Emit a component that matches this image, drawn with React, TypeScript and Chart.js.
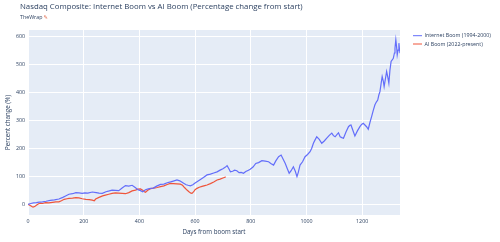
import React, { useEffect, useRef } from "react";
import { Chart, registerables } from "chart.js";

Chart.register(...registerables);

const TITLE = "Nasdaq Composite: Internet Boom vs AI Boom (Percentage change from start)";
const SUBTITLE = "TheWrap";
const X_TITLE = "Days from boom start";
const Y_TITLE = "Percent change (%)";
const SERIES_NAMES = ["Internet Boom (1994-2000)", "AI Boom (2022-present)"];
const SERIES_COLORS = ["#636efa", "#EF553B"];

const internetDays = [
  0, 10, 20, 30, 40, 52, 65, 80, 95, 111, 125, 135, 147, 160, 172, 183, 195, 204, 215, 231,
  245, 255, 267, 280, 292, 302, 314, 326, 338, 350, 362, 374, 385, 395, 404, 412, 422, 432, 440, 450,
  462, 476, 488, 500, 512, 522, 535, 545, 552, 559, 568, 575, 583, 592, 600, 607, 618, 630, 643, 655,
  667, 679, 690, 700, 708, 715, 721, 727, 735, 742, 750, 758, 766, 774, 782, 790, 798, 808, 818, 828,
  840, 852, 864, 872, 882, 890, 900, 909, 916, 924, 931, 938, 945, 953, 960, 966, 971, 977, 986, 995,
  1004, 1013, 1019, 1025, 1031, 1037, 1046, 1055, 1064, 1073, 1082, 1091, 1097, 1103, 1110, 1115, 1121, 1127, 1133, 1142,
  1151, 1156, 1160, 1166, 1174, 1183, 1192, 1198, 1204, 1210, 1216, 1222, 1228, 1234, 1240, 1246, 1251, 1256, 1260, 1264,
  1268, 1272, 1276, 1279, 1284, 1288, 1292, 1296, 1300, 1304, 1308, 1312, 1316, 1318, 1321, 1324, 1326, 1329, 1332, 1334,
  1336,
];
const internetValues = [
  0, 3, 5, 6, 8, 9, 11, 14, 16, 19, 25, 30, 36, 38, 42, 41, 39, 41, 40, 44,
  42, 40, 39, 45, 48, 51, 50, 49, 58, 67, 65, 68, 60, 52, 49, 45, 52, 55, 57, 58,
  65, 71, 72, 77, 80, 83, 87, 84, 80, 75, 70, 68, 66, 70, 76, 81, 88, 96, 105, 108,
  112, 116, 122, 127, 132, 138, 128, 116, 118, 122, 120, 113, 114, 111, 117, 121, 125, 133, 146, 149,
  156, 154, 152, 146, 140, 155, 170, 176, 162, 146, 128, 111, 120, 134, 118, 99, 115, 140, 152, 170,
  178, 188, 200, 218, 230, 241, 232, 218, 226, 236, 246, 254, 245, 241, 250, 255, 241, 238, 236, 258,
  277, 282, 283, 266, 244, 262, 277, 285, 289, 283, 277, 268, 292, 313, 335, 355, 365, 372, 390, 402,
  430, 456, 440, 420, 450, 474, 455, 432, 480, 510, 515, 521, 540, 557, 587, 560, 533, 550, 575, 555,
  539,
];

const aiDays = [
  0, 8, 14, 18, 24, 30, 38, 45, 52, 63, 75, 88, 100, 111, 120, 130, 140, 147, 160, 172,
  183, 195, 208, 220, 231, 238, 243, 255, 268, 278, 290, 302, 314, 325, 338, 350, 362, 374, 386, 395,
  404, 412, 418, 422, 430, 440, 452, 464, 476, 488, 500, 511, 522, 535, 547, 555, 562, 571, 578, 585,
  589, 595, 600, 607, 615, 625, 635, 643, 655, 667, 679, 690, 700, 705, 710,
];
const aiValues = [
  0, -4, -8, -10, -8, -3, 2, 4, 3, 6, 5, 7, 9, 9, 13, 18, 20, 21, 22, 24,
  23, 20, 18, 17, 15, 13, 19, 25, 30, 33, 36, 39, 41, 40, 39, 38, 42, 48, 51, 54,
  55, 50, 45, 43, 50, 56, 58, 60, 63, 66, 71, 75, 74, 73, 72, 68, 60, 51, 45, 40,
  39, 45, 52, 57, 61, 64, 67, 69, 74, 80, 87, 90, 94, 96, 98,
];

const X_MIN = 0;
const X_MAX = 1336;
const Y_MIN = -38;
const Y_MAX = 622;

const FONT = "'Open Sans', 'DejaVu Sans', sans-serif";
const TEXT_COLOR = "#2a3f5f";

const decorPlugin = {
  id: "decor",
  beforeDraw(chart: any) {
    const { ctx, chartArea } = chart;
    ctx.save();
    ctx.fillStyle = "#E5ECF6";
    ctx.fillRect(chartArea.left, chartArea.top, chartArea.right - chartArea.left, chartArea.bottom - chartArea.top);
    ctx.restore();
  },
  afterDraw(chart: any) {
    const { ctx, chartArea } = chart;
    ctx.save();
    ctx.fillStyle = TEXT_COLOR;
    ctx.textBaseline = "middle";
    ctx.textAlign = "left";
    ctx.font = `7.8px ${FONT}`;
    ctx.fillText(TITLE, 20, 7);
    ctx.font = `5.3px ${FONT}`;
    ctx.fillText(SUBTITLE, 20, 17.5);
    const w = ctx.measureText(SUBTITLE).width;
    ctx.fillStyle = "#e0694a";
    ctx.fillText("✎", 20 + w + 1, 17.5);

    // axis titles
    ctx.fillStyle = TEXT_COLOR;
    ctx.font = `6.2px ${FONT}`;
    ctx.textAlign = "center";
    ctx.fillText(X_TITLE, (chartArea.left + chartArea.right) / 2, 232);
    ctx.save();
    ctx.translate(8, (chartArea.top + chartArea.bottom) / 2);
    ctx.rotate(-Math.PI / 2);
    ctx.fillText(Y_TITLE, 0, 0);
    ctx.restore();

    // legend
    ctx.font = `5.3px ${FONT}`;
    ctx.textAlign = "left";
    const rows = [35.7, 44];
    SERIES_NAMES.forEach((name, i) => {
      ctx.strokeStyle = SERIES_COLORS[i];
      ctx.lineWidth = 1;
      ctx.beginPath();
      ctx.moveTo(413, rows[i]);
      ctx.lineTo(422, rows[i]);
      ctx.stroke();
      ctx.fillStyle = TEXT_COLOR;
      ctx.fillText(name, 424.5, rows[i]);
    });
    ctx.restore();
  },
};

export default function App() {
  const ref = useRef<HTMLCanvasElement | null>(null);
  useEffect(() => {
    if (!ref.current) return;
    const chart = new Chart(ref.current, {
      type: "line",
      data: {
        datasets: [
          {
            label: SERIES_NAMES[0],
            data: internetDays.map((d, i) => ({ x: d, y: internetValues[i] })),
            borderColor: SERIES_COLORS[0],
            backgroundColor: SERIES_COLORS[0],
            borderWidth: 1.2,
            pointRadius: 0,
            tension: 0,
          },
          {
            label: SERIES_NAMES[1],
            data: aiDays.map((d, i) => ({ x: d, y: aiValues[i] })),
            borderColor: SERIES_COLORS[1],
            backgroundColor: SERIES_COLORS[1],
            borderWidth: 1.2,
            pointRadius: 0,
            tension: 0,
          },
        ],
      },
      options: {
        responsive: false,
        animation: false,
        layout: { padding: { left: 0, right: 100, top: 30, bottom: 0 } },
        plugins: { legend: { display: false }, title: { display: false }, tooltip: { enabled: false } },
        scales: {
          x: {
            type: "linear",
            min: X_MIN,
            max: X_MAX,
            border: { display: false },
            grid: { color: "#ffffff", lineWidth: 1, drawTicks: false },
            ticks: {
              stepSize: 200,
              includeBounds: false,
              padding: 3,
              maxRotation: 0,
              color: TEXT_COLOR,
              font: { family: FONT, size: 5.3 },
              callback: (v: any) => String(v),
            },
            afterFit(scale: any) {
              scale.height = 27;
            },
          },
          y: {
            type: "linear",
            min: Y_MIN,
            max: Y_MAX,
            border: { display: false },
            grid: { color: "#ffffff", lineWidth: 1, drawTicks: false },
            ticks: {
              stepSize: 100,
              includeBounds: false,
              padding: 3,
              color: TEXT_COLOR,
              font: { family: FONT, size: 5.3 },
              callback: (v: any) => String(v),
            },
            afterFit(scale: any) {
              scale.width = 28;
            },
          },
        },
      },
      plugins: [decorPlugin],
    });
    return () => chart.destroy();
  }, []);
  return (
    <div style={{ position: "fixed", left: 0, top: 0, width: 500, height: 242, background: "#fff" }}>
      <canvas ref={ref} width={500} height={242} style={{ display: "block" }} />
    </div>
  );
}
